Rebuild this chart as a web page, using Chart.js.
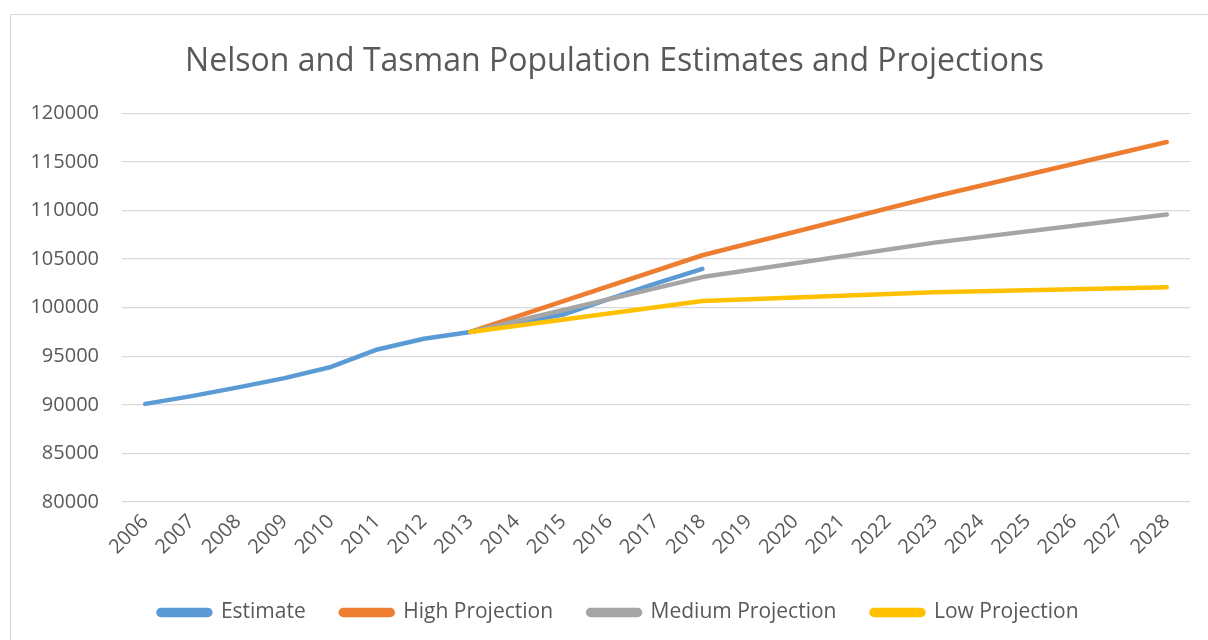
<!DOCTYPE html>
<html>
<head>
<meta charset="utf-8">
<title>Nelson and Tasman Population</title>
<script src="https://cdn.jsdelivr.net/npm/chart.js@4.4.1/dist/chart.umd.min.js"></script>
<style>
    html, body {
        margin: 0;
        padding: 0;
        background: #ffffff;
    }
    #wrap {
        position: relative;
        width: 1208px;
        height: 640px;
        overflow: hidden;
    }
    #frame {
        position: absolute;
        left: 10px;
        top: 14px;
        width: 1300px;
        height: 700px;
        border-left: 1px solid #d9d9d9;
        border-top: 1px solid #d9d9d9;
    }
    canvas {
        position: absolute;
        left: 0;
        top: 0;
    }
</style>
</head>
<body>
<div id="wrap">
    <div id="frame"></div>
    <canvas id="popChart" width="1208" height="640"></canvas>
</div>
<script>
const years = ["2006", "2007", "2008", "2009", "2010", "2011", "2012", "2013", "2014", "2015", "2016", "2017",
    "2018", "2019", "2020", "2021", "2022", "2023", "2024", "2025", "2026", "2027", "2028"];

// annual estimates up to 2018
const estimate = [90100, 90900, 91800, 92750, 93900, 95700, 96800, 97500, 98400, 99300, 100900, 102500,
    104000, null, null, null, null, null, null, null, null, null, null];

// projections are only given every five years from 2013
const highProjection = [null, null, null, null, null, null, null, 97500, null, null, null, null,
    105400, null, null, null, null, 111450, null, null, null, null, 117050];
const mediumProjection = [null, null, null, null, null, null, null, 97500, null, null, null, null,
    103150, null, null, null, null, 106700, null, null, null, null, 109600];
const lowProjection = [null, null, null, null, null, null, null, 97500, null, null, null, null,
    100700, null, null, null, null, 101600, null, null, null, null, 102100];

const yTicks = [80000, 85000, 90000, 95000, 100000, 105000, 110000, 115000, 120000];

const textColor = "#595959";
const fontFamily = "'Open Sans', 'Noto Sans', sans-serif";

// title and legend are centred on the whole frame, not on the canvas minus the right padding
const centreShift = {
    id: "centreShift",
    afterLayout(chart) {
        if (chart.titleBlock) {
            chart.titleBlock.left = 39;
        }
        if (chart.legend) {
            chart.legend.left = 47;
        }
    },
};

function lineSet(label, data, color, order) {
    return {
        label: label,
        data: data,
        borderColor: color,
        backgroundColor: color,
        borderWidth: 4.5,
        borderCapStyle: "round",
        borderJoinStyle: "round",
        pointRadius: 0,
        pointHoverRadius: 0,
        tension: 0,
        spanGaps: true,
        order: order, // later series painted on top
    };
}

document.addEventListener("DOMContentLoaded", function () {
    const ctx = document.getElementById("popChart");

    new Chart(ctx, {
        type: "line",
        data: {
            labels: years,
            datasets: [
                lineSet("Estimate", estimate, "#5B9BD5", 4),
                lineSet("High Projection", highProjection, "#ED7D31", 3),
                lineSet("Medium Projection", mediumProjection, "#A5A5A5", 2),
                lineSet("Low Projection", lowProjection, "#FFC000", 1),
            ],
        },
        plugins: [centreShift],
        options: {
            responsive: false,
            animation: false,
            devicePixelRatio: 1,
            layout: {
                padding: { left: 0, right: 18, top: 0, bottom: 7 },
            },
            plugins: {
                title: {
                    display: true,
                    text: "Nelson and Tasman Population Estimates and Projections",
                    color: textColor,
                    font: { family: fontFamily, size: 32, weight: "normal" },
                    padding: { top: 43, bottom: 32 },
                },
                legend: {
                    position: "bottom",
                    labels: {
                        color: textColor,
                        font: { family: fontFamily, size: 21 },
                        boxWidth: 52,
                        boxHeight: 5,
                        useBorderRadius: true,
                        borderRadius: 2.5,
                        padding: 35,
                        sort: function (a, b) {
                            return a.datasetIndex - b.datasetIndex;
                        },
                    },
                },
                tooltip: { enabled: false },
            },
            scales: {
                x: {
                    offset: true,
                    grid: { display: false, drawTicks: false },
                    border: { display: false },
                    ticks: {
                        color: textColor,
                        font: { family: fontFamily, size: 20 },
                        maxRotation: 45,
                        minRotation: 45,
                        autoSkip: false,
                        padding: 8,
                    },
                    afterFit: function (scale) {
                        scale.height = 65;
                    },
                },
                y: {
                    min: 80000,
                    max: 120000,
                    grid: { color: "#d9d9d9", lineWidth: 1.3, drawTicks: false },
                    border: { display: false },
                    afterBuildTicks: function (scale) {
                        scale.ticks = yTicks.map((v) => ({ value: v }));
                    },
                    ticks: {
                        color: textColor,
                        font: { family: fontFamily, size: 20 },
                        padding: 23,
                        callback: function (value) {
                            return String(value);
                        },
                    },
                    afterFit: function (scale) {
                        scale.width = 122;
                    },
                },
            },
        },
    });
});
</script>
</body>
</html>
